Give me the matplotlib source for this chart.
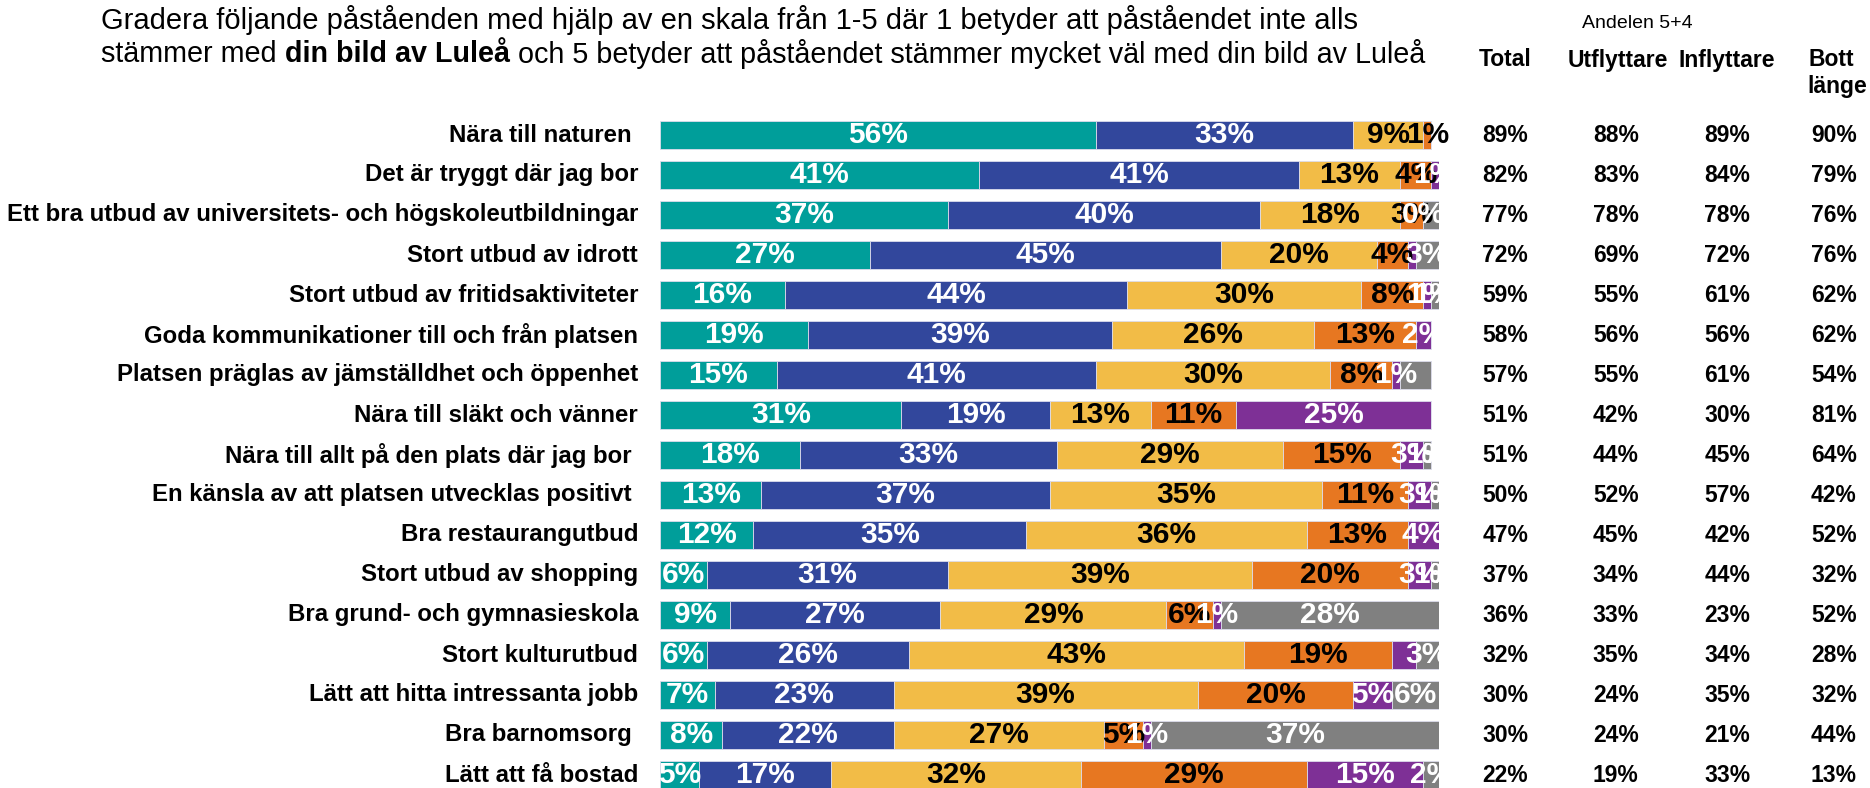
import numpy as np
import matplotlib.pyplot as plt

plt.rcParams['font.family'] = ['Liberation Sans', 'DejaVu Sans']

# Data
categories = [
    "Nära till naturen ",
    "Det är tryggt där jag bor",
    "Ett bra utbud av universitets- och högskoleutbildningar",
    "Stort utbud av idrott",
    "Stort utbud av fritidsaktiviteter",
    "Goda kommunikationer till och från platsen",
    "Platsen präglas av jämställdhet och öppenhet",
    "Nära till släkt och vänner",
    "Nära till allt på den plats där jag bor ",
    "En känsla av att platsen utvecklas positivt ",
    "Bra restaurangutbud",
    "Stort utbud av shopping",
    "Bra grund- och gymnasieskola",
    "Stort kulturutbud",
    "Lätt att hitta intressanta jobb",
    "Bra barnomsorg ",
    "Lätt att få bostad",
]
grade_5 = [56, 41, 37, 27, 16, 19, 15, 31, 18, 13, 12, 6, 9, 6, 7, 8, 5]
grade_4 = [33, 41, 40, 45, 44, 39, 41, 19, 33, 37, 35, 31, 27, 26, 23, 22, 17]
grade_3 = [9, 13, 18, 20, 30, 26, 30, 13, 29, 35, 36, 39, 29, 43, 39, 27, 32]
grade_2 = [1, 4, 3, 4, 8, 13, 8, 11, 15, 11, 13, 20, 6, 19, 20, 5, 29]
grade_1 = [0, 1, 0, 1, 1, 2, 1, 25, 3, 3, 4, 3, 1, 3, 5, 1, 15]
dont_know = [0, 0, 2, 3, 1, 0, 4, 0, 1, 1, 0, 1, 28, 3, 6, 37, 2]

total = [89, 82, 77, 72, 59, 58, 57, 51, 51, 50, 47, 37, 36, 32, 30, 30, 22]
utflyttare = [88, 83, 78, 69, 55, 56, 55, 42, 44, 52, 45, 34, 33, 35, 24, 24, 19]
inflyttare = [89, 84, 78, 72, 61, 56, 61, 30, 45, 57, 42, 44, 23, 34, 35, 21, 33]
bott_lange = [90, 79, 76, 76, 62, 62, 54, 81, 64, 42, 52, 32, 52, 28, 32, 44, 13]

# labels that are not visible in the original / zero labels that are
hidden_labels = {(2, 5), (3, 4), (6, 5), (13, 4)}
shown_zero = {(2, 4)}

series = [grade_5, grade_4, grade_3, grade_2, grade_1, dont_know]
colors = ["#009E9A", "#32479C", "#F2BC47", "#E77721", "#7E3096", "#808080"]
text_colors = ["white", "white", "black", "black", "white", "white"]

fig = plt.figure(figsize=(18.7, 7.88), dpi=100)
W, H = 1870, 788
row_h = 40
top_px = 115
ax = fig.add_axes([660 / W, 0, 779 / W, 1 - top_px / H])
n = len(categories)
y = np.arange(n)

left = np.zeros(n)
for k, vals in enumerate(series):
    vals = np.array(vals, dtype=float)
    ax.barh(y, vals, left=left, height=0.72, color=colors[k],
            edgecolor="#dcdcec", linewidth=0.6)
    for i in range(n):
        v = vals[i]
        if (i, k) in hidden_labels:
            continue
        if v > 0 or (i, k) in shown_zero:
            ax.text(left[i] + v / 2, y[i], f"{int(v)}%", ha="center", va="center",
                    fontsize=21.5, fontweight="bold", color=text_colors[k])
    left += vals

ax.set_xlim(0, 100)
ax.set_ylim(-0.5 + (H - top_px) / row_h, -0.5)
ax.axis("off")

# category labels
for i, c in enumerate(categories):
    ax.text(-2.8, y[i], c, ha="right", va="center", fontsize=17.3,
            fontweight="bold", clip_on=False)

# table on the right
col_x = [108.5, 122.7, 137.0, 150.7]
col_data = [total, utflyttare, inflyttare, bott_lange]
for cx, data in zip(col_x, col_data):
    for i, v in enumerate(data):
        ax.text(cx, y[i], f"{v}%", ha="center", va="center", fontsize=16.5,
                fontweight="bold", clip_on=False)

hdr = dict(ha="center", va="center", fontsize=16.5, fontweight="bold", clip_on=False)
ax.text(108.5, -1.875, "Total", **hdr)
ax.text(122.9, -1.875, "Utflyttare", **hdr)
ax.text(137.0, -1.875, "Inflyttare", **hdr)
ax.text(150.3, -1.875, "Bott", **hdr)
ax.text(151.1, -1.2, "länge", **hdr)
ax.text(125.5, -2.8, "Andelen 5+4", ha="center", va="center", fontsize=14,
        clip_on=False)

# title, two lines, part of second line in bold
renderer = fig.canvas.get_renderer()
fig.text(101 / W, 1 - 20 / H,
         "Gradera följande påståenden med hjälp av en skala från 1-5 där 1 betyder att påståendet inte alls",
         ha="left", va="center", fontsize=21)
parts = [("stämmer med ", "normal"), ("din bild av Luleå", "bold"),
         (" och 5 betyder att påståendet stämmer mycket väl med din bild av Luleå", "normal")]
x = 101 / W
for txt, weight in parts:
    t = fig.text(x, 1 - 54 / H, txt, ha="left", va="center", fontsize=20.7,
                 fontweight=weight)
    bb = t.get_window_extent(renderer=renderer)
    x = bb.x1 / fig.bbox.width

fig.savefig("out.png", dpi=100)
